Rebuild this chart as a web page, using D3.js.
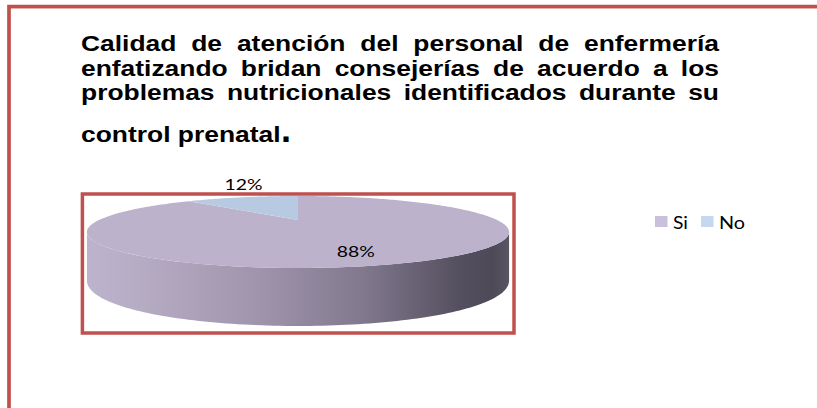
<!DOCTYPE html>
<html>
<head>
<meta charset="utf-8">
<script src="https://d3js.org/d3.v7.min.js"></script>
<style>
  html, body { margin: 0; padding: 0; background: #ffffff; }
  svg { display: block; }
</style>
</head>
<body>
<svg id="chart" width="817" height="408"></svg>
<script>
// ---- data ----
const categories = ["Si", "No"];
const values = [88, 12];
const valueLabels = ["88%", "12%"];
const titleLines = [
  "Calidad de atención del personal de enfermería",
  "enfatizando bridan consejerías de acuerdo a los",
  "problemas nutricionales identificados durante su"
];
const titleLastLine = "control prenatal";
const topColors = ["#BCB2CB", "#B8CAE1"];
const legendColors = ["#CBC0DB", "#C6D8EF"];

// ---- layout ----
const svg = d3.select("#chart");
const W = 817, H = 408;
svg.append("rect").attr("width", W).attr("height", H).attr("fill", "#fff");

const defs = svg.append("defs");

// outer page border (red)
svg.append("rect")
  .attr("x", 9).attr("y", 6.6).attr("width", 900).attr("height", 500)
  .attr("fill", "none").attr("stroke", "#C0504D").attr("stroke-width", 3.7);

// ---- title (justified, slightly expanded) ----
const tFont = "'Liberation Sans', Arial, sans-serif";
const tSize = 22, tScale = 1.2, tLeft = 81, tRight = 719;
const baselines = [50.5, 75.5, 100];
const tg = svg.append("g");
titleLines.forEach((line, i) => {
  const words = line.split(" ");
  const nodes = words.map(w => tg.append("text")
    .attr("y", baselines[i])
    .attr("font-family", tFont).attr("font-weight", "bold")
    .attr("font-size", tSize).attr("fill", "#000").text(w));
  const widths = nodes.map(n => n.node().getComputedTextLength() * tScale);
  const total = d3.sum(widths);
  const gap = (tRight - tLeft - total) / (words.length - 1);
  let x = tLeft;
  nodes.forEach((n, j) => {
    n.attr("x", x).attr("textLength", widths[j]).attr("lengthAdjust", "spacingAndGlyphs");
    x += widths[j] + gap;
  });
});
const last = tg.append("text")
  .attr("x", tLeft).attr("y", 142)
  .attr("font-family", tFont).attr("font-weight", "bold")
  .attr("font-size", tSize).attr("fill", "#000").text(titleLastLine);
const lastW = last.node().getComputedTextLength() * tScale;
last.attr("textLength", lastW).attr("lengthAdjust", "spacingAndGlyphs");
tg.append("text")
  .attr("x", tLeft + lastW + 0.5).attr("y", 142)
  .attr("font-family", tFont).attr("font-weight", "bold")
  .attr("font-size", 36).attr("fill", "#000").text(".");

// ---- 3D pie (perspective projection of a disc) ----
const PX = 298, PY = 220;       // projected centre of the disc
const A = 199, B = 32, K = 1 / 3;
function proj(r, ang) {
  const u = r * Math.sin(ang), v = r * Math.cos(ang);
  const w = 1 + K * v;
  return [PX + A * u / w, PY - B * v / w];
}
function depth(ang) { return 44 - 14 * Math.cos(ang); }

const pie = d3.pie().sort(null).value(d => d);
const arcs = pie(values);
const color = d3.scaleOrdinal().domain(categories).range(topColors);
const line = d3.line();

function sampleArc(a0, a1, n) {
  return d3.range(n + 1).map(i => a0 + (a1 - a0) * i / n);
}

const phiR = Math.acos(-K), phiL = 2 * Math.PI - Math.acos(-K);
const xLeft = proj(1, phiL)[0], xRight = proj(1, phiR)[0];

const grad = defs.append("linearGradient").attr("id", "sideGrad")
  .attr("gradientUnits", "userSpaceOnUse")
  .attr("x1", xLeft).attr("x2", xRight).attr("y1", 0).attr("y2", 0);
[[0, "#BDB3CC"], [0.12, "#B6ACC4"], [0.4, "#A095AD"], [0.65, "#82798E"],
 [0.88, "#555060"], [0.96, "#4E4957"], [1, "#5A5563"]]
  .forEach(([o, c]) => grad.append("stop").attr("offset", o).attr("stop-color", c));

const pieG = svg.append("g");

// sides (front visible part)
arcs.forEach((a, i) => {
  const s = Math.max(a.startAngle, phiR), e = Math.min(a.endAngle, phiL);
  if (e <= s) return;
  const angs = sampleArc(s, e, 120);
  const topPts = angs.map(t => proj(1, t));
  const botPts = angs.map(t => { const p = proj(1, t); return [p[0], p[1] + depth(t)]; }).reverse();
  pieG.append("path")
    .attr("d", line(topPts.concat(botPts)) + "Z")
    .attr("fill", i === 0 ? "url(#sideGrad)" : d3.color(topColors[i]).darker(1));
});

// top faces
arcs.forEach((a, i) => {
  const n = Math.max(8, Math.ceil((a.endAngle - a.startAngle) * 60));
  const pts = [proj(0, 0)].concat(sampleArc(a.startAngle, a.endAngle, n).map(t => proj(1, t)));
  pieG.append("path")
    .attr("d", line(pts) + "Z")
    .attr("fill", color(categories[i]));
});

// inner red frame around the plot
svg.append("rect")
  .attr("x", 82.4).attr("y", 194).attr("width", 431.6).attr("height", 139)
  .attr("fill", "none").attr("stroke", "#C0504D").attr("stroke-width", 3.5);

// data labels
const lFont = "Lato, 'Open Sans', sans-serif";
arcs.forEach((a, i) => {
  const mid = (a.startAngle + a.endAngle) / 2;
  let p;
  if (values[i] >= 50) { p = proj(0.66, mid); p = [p[0] - 3, p[1] + 6]; }
  else { p = proj(1, mid); p = [p[0] + 1.5, p[1] - 13.5]; }
  svg.append("text")
    .attr("x", p[0] - 19).attr("y", p[1] + 6)
    .attr("font-family", lFont).attr("font-size", 16).attr("fill", "#000")
    .attr("textLength", 38).attr("lengthAdjust", "spacingAndGlyphs")
    .text(valueLabels[i]);
});

// legend
const lg = svg.append("g");
const legendX = [655, 701];
const legendTextW = [15, 26];
categories.forEach((c, i) => {
  lg.append("rect").attr("x", legendX[i]).attr("y", 216)
    .attr("width", 12.5).attr("height", 11).attr("fill", legendColors[i]);
  lg.append("text").attr("x", legendX[i] + 18).attr("y", 228.5)
    .attr("font-family", lFont).attr("font-size", 17).attr("fill", "#000")
    .attr("textLength", legendTextW[i]).attr("lengthAdjust", "spacingAndGlyphs")
    .text(c);
});
</script>
</body>
</html>
